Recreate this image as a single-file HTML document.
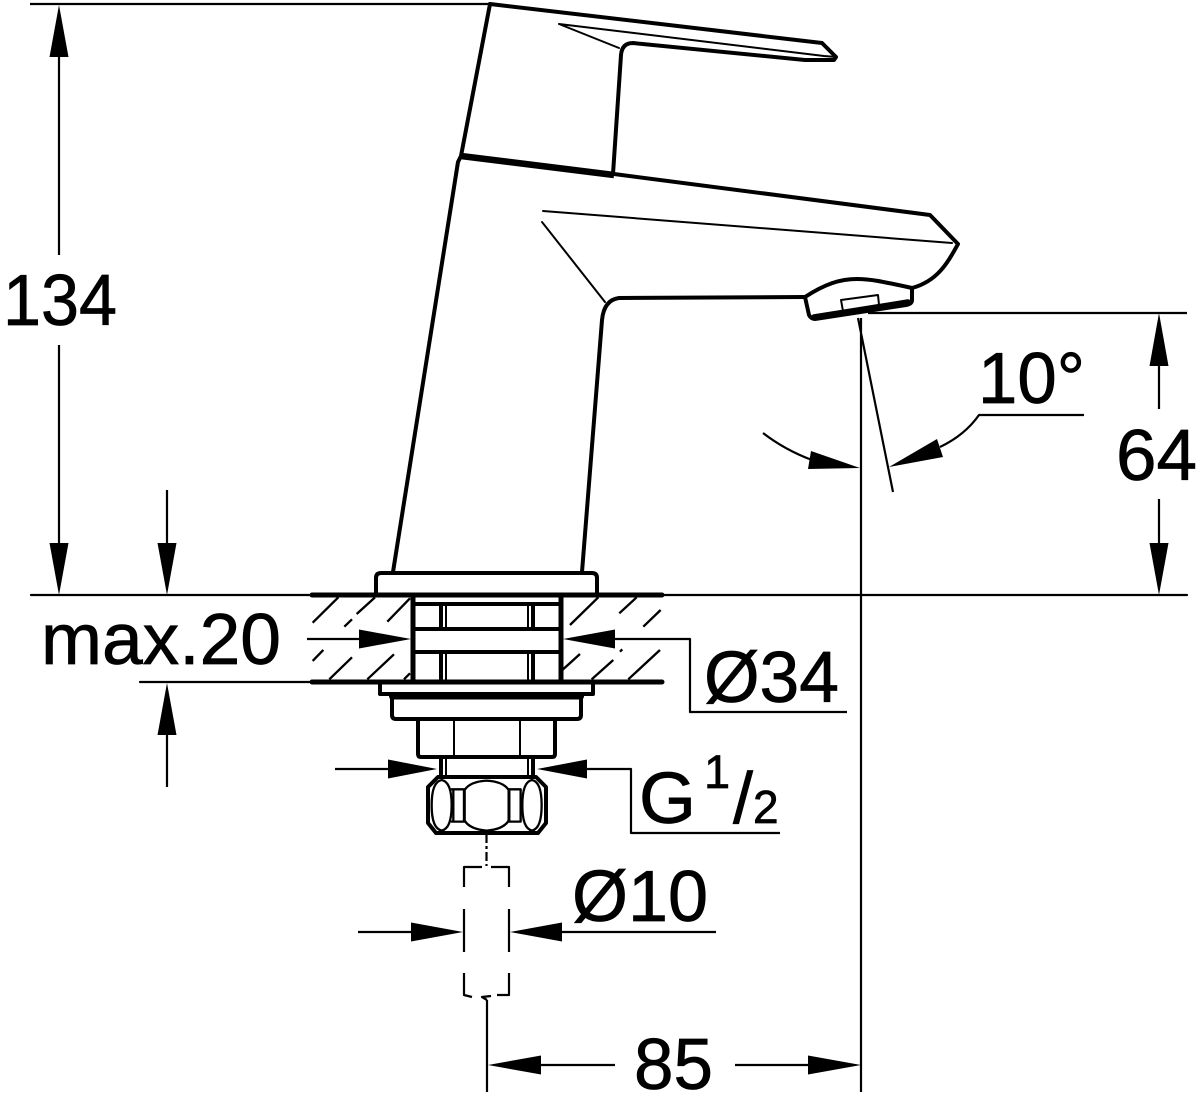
<!DOCTYPE html>
<html><head><meta charset="utf-8"><style>html,body{margin:0;padding:0;background:#fff}svg{display:block}text{font-family:"Liberation Sans",sans-serif;fill:#000;stroke:#000;stroke-width:.7}</style></head><body>
<svg width="1200" height="1098" viewBox="0 0 1200 1098" xmlns="http://www.w3.org/2000/svg">
<g fill="none" stroke="#000" stroke-linejoin="round" stroke-linecap="round">
<!-- faucet -->
<g stroke-width="4">
<path d="M490 4L822 43L836 57L834 60L805 60L633 43Q622 43 621 55L613 174"/>
<path d="M490 4L461 156L458 162L393 572"/>
<path d="M614 174L930 215L958 244C948 262 938 281 912 288"/>
<path d="M805 297L619 298Q604 300 602 320L582 572"/>
<path d="M805 297C825 284 840 279 857 279C870 279 880 281 912 288L912 300Q912 304 906 305L815 319Q811 319 809 315Z"/>
</g>
<path d="M461 156L614 175" stroke-width="6.500" stroke-linecap="butt"/>
<path d="M814 317L908 302" stroke-width="5.500"/>
<g stroke-width="2">
<path d="M559 24L824 56L836 57M559 24L619 48"/>
<path d="M543 211L952 243M542 222L605 302"/>
<path d="M841 300L878 295L879 305L843 311Z"/>
</g>
<!-- base -->
<g stroke-width="4">
<path d="M376 595L376 578Q376 573 381 573L592 573Q597 573 597 578L597 595"/>
<path d="M380 682L380 694L593 694L593 682"/>
<path d="M392 697L392 715Q392 719 396 719L577 719Q581 719 581 715L581 697"/>
<path d="M418 719L418 754Q418 757 421 757L552 757Q555 757 555 754L555 719"/>
<path d="M413 604L561 604"/>
<path d="M414 629L560 629M414 652L560 652"/>
<path d="M441 604V629M441 652V682M533 604V629M533 652V682"/>
<path d="M441 757V777M533 757V777"/>
<path d="M438 777L536 777L546 787L546 823L538 833L436 833L428 823L428 787Z"/>
</g>
<path d="M413 595V682M561 595V682" stroke-width="5"/>
<path d="M392 696.500L581 696.500" stroke-width="6"/>
<path d="M312 595L662 595M312 682L662 682" stroke-width="5"/>
<g stroke-width="2">
<path d="M446 604V629M446 652V682M528 604V629M528 652V682M446 757V777M528 757V777"/>
<path d="M454 719V757M520 719V757"/>
<path d="M31 595L1187 595M140 682L312 682" stroke-width="2.200"/>
</g>
<g transform="translate(290 560) scale(.3333)" stroke-width="7">
<path d="M455 660Q425 665 425 736Q425 806 455 812Q485 806 485 736Q485 665 455 660Z"/>
<path d="M726 660Q697 665 697 736Q697 806 726 812Q755 806 755 736Q755 665 726 660Z"/>
<path d="M590 662Q540 665 524 690Q524 736 524 782Q540 808 590 812Q640 808 656 782L656 690Q640 665 590 662Z"/>
<path d="M485 688H524M485 785H524M656 688H692M656 785H692M490 688V785M522 688V785M658 688V785M692 688V785"/>
<g stroke-linecap="butt"><path d="M68 188L145 112M200 162L255 112M163 200L186 178M292 185L360 115M68 303L100 270M118 358L186 292M232 358L312 283M342 358L360 340M840 195L925 112M988 160L1040 112M1060 200L1112 150M815 332L870 282M905 358L970 300M990 275L997 268M1015 358L1110 270"/></g>
</g>
<!-- dashed pipe & centerlines -->
<g stroke-width="2.200" stroke-linecap="butt">
<path d="M464 887V867H482M491 867H509V887M464 909V952M509 909V952M464 973V995L472 997M509 973V995H497M491 996L482 997L487 1000"/>
<path d="M486.500 834V866" stroke-dasharray="9 3 3 3"/>
<path d="M487 1000V1092"/>
<path d="M861 318V1092M858 318L893 492"/>
<path d="M868 313H1187"/>
</g>
<!-- dimension lines -->
<g stroke-width="2.200" stroke-linecap="butt">
<path d="M30 4H490"/>
<path d="M59 50V255M59 345V550"/>
<path d="M167 490V550M167 730V787"/>
<path d="M1159 360V409M1159 499V550"/>
<path d="M307 639H365M610 639H690V712H847"/>
<path d="M335 769H395M580 769H631V833H780"/>
<path d="M358 932H415M555 932H716"/>
<path d="M535 1065H615M735 1065H815"/>
<path d="M763 433Q785 450 812 460M940 447Q965 435 979 415L1084 415"/>
</g>
</g>
<g fill="#000" stroke="none">
<path d="M59 5L49.500 57H68.500ZM59 595L49.500 543H68.500ZM167 595L157.500 543H176.500ZM167 683L157.500 735H176.500ZM1159 313L1149.500 366H1168.500ZM1159 595L1149.500 543H1168.500Z"/>
<path d="M411 639L359 629.500V648.500ZM563 639L615 629.500V648.500ZM437 769L388 759.500V778.500ZM537 769L587 759.500V778.500ZM463 932L411 922.500V941.500ZM510 932L562 922.500V941.500ZM488 1065L541 1055.500V1074.500ZM861 1065L808 1055.500V1074.500Z"/>
<path d="M860 468L811 451L808 469ZM889 467L937 439L943 457Z"/>
</g>
<g font-size="72">
<text x="3" y="325" textLength="114" lengthAdjust="spacingAndGlyphs">134</text>
<text x="1116" y="480" textLength="81" lengthAdjust="spacingAndGlyphs">64</text>
<text x="978" y="403" textLength="107" lengthAdjust="spacingAndGlyphs">10°</text>
<text x="41" y="664" textLength="240" lengthAdjust="spacingAndGlyphs">max.20</text>
<text x="704" y="702" textLength="135" lengthAdjust="spacingAndGlyphs">Ø34</text>
<text x="639" y="823" textLength="57" lengthAdjust="spacingAndGlyphs">G</text>
<text x="572" y="921" textLength="136" lengthAdjust="spacingAndGlyphs">Ø10</text>
<text x="634" y="1089" textLength="79" lengthAdjust="spacingAndGlyphs">85</text>
<text x="733" y="823">/</text>
</g>
<text x="704" y="788" font-size="47">1</text>
<text x="753" y="823" font-size="46">2</text>
</svg>
</body></html>
